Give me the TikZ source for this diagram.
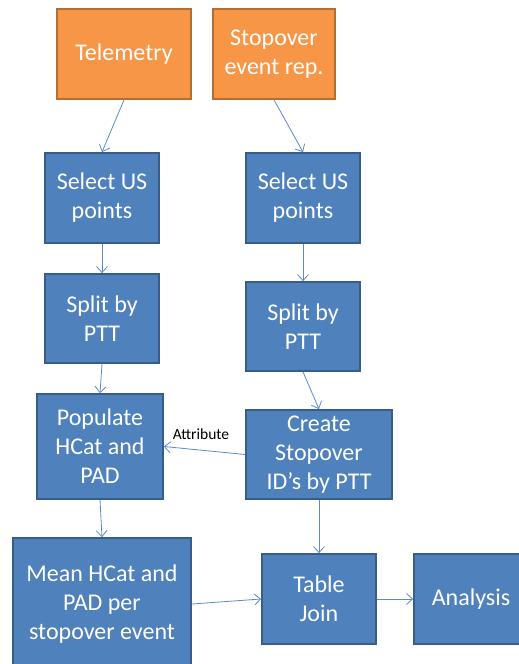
\documentclass[tikz,border=0pt]{standalone}
\usepackage{fontspec}
\setmainfont{Carlito}
\usetikzlibrary{arrows.meta}
\definecolor{bfill}{HTML}{4F81BD}
\definecolor{bdraw}{HTML}{385D8A}
\definecolor{ofill}{HTML}{F79646}
\definecolor{odraw}{HTML}{B66D31}
\definecolor{arr}{HTML}{5A8ACB}
\tikzset{
  box/.style={draw, line width=1.8pt, inner sep=0pt, align=center, text=white,
    font=\fontsize{24}{29}\selectfont},
  bbox/.style={box, fill=bfill, draw=bdraw},
  obox/.style={box, fill=ofill, draw=odraw},
  conn/.style={draw=arr, line width=0.8pt, -{Straight Barb[length=6pt,width=11pt]}},
}
\begin{document}
\begin{tikzpicture}[x=1pt,y=-1pt]
\useasboundingbox (0,0) rectangle (519,664);
\node[obox, minimum width=134, minimum height=90] (tel) at (124,54) {Telemetry};
\node[obox, minimum width=122, minimum height=90] (stop) at (274,54) {Stopover\\event rep.};
\node[bbox, minimum width=114, minimum height=90] (selL) at (102,198) {Select US\\points};
\node[bbox, minimum width=114, minimum height=90] (selR) at (303,198) {Select US\\points};
\node[bbox, minimum width=114, minimum height=89] (splL) at (102,318.5) {Split by\\PTT};
\node[bbox, minimum width=114, minimum height=89] (splR) at (303,326.5) {Split by\\PTT};
\node[bbox, minimum width=126, minimum height=105] (pop) at (100,446.5) {Populate\\HCat and\\PAD};
\node[bbox, minimum width=146, minimum height=89] (cre) at (319,454.5) {Create\\Stopover\\ID’s by PTT};
\node[bbox, minimum width=178, minimum height=132] (mean) at (102,604) {Mean HCat and\\PAD per\\stopover event};
\node[bbox, minimum width=114, minimum height=90] (tab) at (319,599) {Table\\Join};
\node[bbox, minimum width=114, minimum height=90] (ana) at (471,599) {Analysis};
\node[font=\fontsize{15.5}{18}\selectfont, text=black] (attr) at (201,434) {Attribute};
\draw[conn] (tel.south) -- (selL.north);
\draw[conn] (stop.south) -- (selR.north);
\draw[conn] (selL.south) -- (splL.north);
\draw[conn] (selR.south) -- (splR.north);
\draw[conn] (splL.south) -- (pop.north);
\draw[conn] (splR.south) -- (cre.north);
\draw[conn] (cre.west) -- (pop.east);
\draw[conn] (pop.south) -- (mean.north);
\draw[conn] (cre.south) -- (tab.north);
\draw[conn] (mean.east) -- (tab.west);
\draw[conn] (tab.east) -- (ana.west);
\end{tikzpicture}
\end{document}
